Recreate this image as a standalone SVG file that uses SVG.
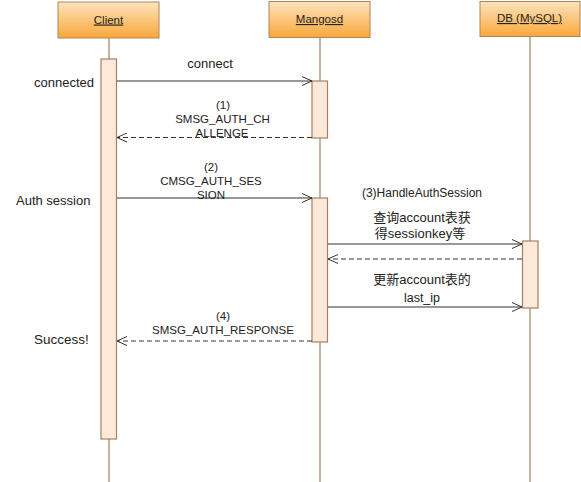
<svg xmlns="http://www.w3.org/2000/svg" width="581" height="482" viewBox="0 0 581 482">
<defs>
<linearGradient id="hdr" x1="0" y1="0" x2="0" y2="1">
<stop offset="0" stop-color="#fee3bd"/>
<stop offset="1" stop-color="#f9a83a"/>
</linearGradient>
<marker id="open" markerWidth="12" markerHeight="10" refX="10" refY="5" orient="auto" markerUnits="userSpaceOnUse">
<path d="M0,0.5 L10,5 L0,9.5" fill="none" stroke="#333" stroke-width="1"/>
</marker>
</defs>
<style>
text{font-family:"Liberation Sans","Noto Sans CJK SC",Arial,sans-serif;fill:#222;font-size:12px}
.hdr{fill:url(#hdr);stroke:#b0845a;stroke-width:1}
.ttl{font-size:11.5px;text-decoration:underline;text-anchor:middle}
.life{stroke:#a88a6e;stroke-width:1.3;fill:none}
.act{fill:#fde9da;stroke:#a8805e;stroke-width:1.2}
.msg{stroke:#333;stroke-width:1.1;fill:none;marker-end:url(#open)}
.ret{stroke:#333;stroke-width:1.1;fill:none;stroke-dasharray:5 3;marker-end:url(#open)}
.lbl{text-anchor:middle;font-size:11.5px}
.big{font-size:13px}
.cjk{text-anchor:middle;font-size:13px}
</style>
<rect width="581" height="482" fill="#fff"/>
<g id="client">
<line class="life" x1="109" y1="38" x2="109" y2="482"/>
<rect class="hdr" x="58" y="2" width="101" height="36"/>
<text class="ttl" x="108.5" y="23.5">Client</text>
<rect class="act" x="101" y="59" width="15.5" height="380"/>
</g>
<g id="mangosd">
<line class="life" x1="320" y1="37" x2="320" y2="482"/>
<rect class="hdr" x="269" y="1.5" width="101" height="36"/>
<text class="ttl" x="319.5" y="23">Mangosd</text>
<rect class="act" x="312" y="81" width="15.5" height="57"/>
<rect class="act" x="312" y="198" width="15.5" height="144"/>
</g>
<g id="db">
<line class="life" x1="530" y1="36" x2="530" y2="482"/>
<rect class="hdr" x="480" y="1.5" width="100" height="35"/>
<text class="ttl" x="529.5" y="22">DB (MySQL)</text>
<rect class="act" x="522.5" y="241" width="15.5" height="67"/>
</g>
<g id="connectors">
<line class="msg" x1="117" y1="81" x2="312" y2="81"/>
<line class="ret" x1="312" y1="137.5" x2="117" y2="137.5"/>
<line class="msg" x1="117" y1="198" x2="312" y2="198"/>
<line class="msg" x1="328" y1="244" x2="522" y2="244"/>
<line class="ret" x1="522" y1="259" x2="328" y2="259"/>
<line class="msg" x1="328" y1="307" x2="522" y2="307"/>
<line class="ret" x1="312" y1="341" x2="117" y2="341"/>
</g>
<g id="labels">
<text class="big" x="210" y="67.5" text-anchor="middle">connect</text>
<text class="big" x="34" y="86.5">connected</text>
<text class="lbl" x="223" y="109">(1)</text>
<text class="lbl" x="222.5" y="123">SMSG_AUTH_CH</text>
<text class="lbl" x="222" y="137">ALLENGE</text>
<text class="lbl" x="211" y="171">(2)</text>
<text class="lbl" x="211" y="185">CMSG_AUTH_SES</text>
<text class="lbl" x="211" y="199">SION</text>
<text class="big" x="16" y="204.5">Auth session</text>
<text class="lbl" x="422" y="197" style="font-size:12px">(3)HandleAuthSession</text>
<text class="cjk" x="422" y="221.5">查询account表获</text>
<text class="cjk" x="420" y="237.5">得sessionkey等</text>
<text class="cjk" x="422" y="283.5">更新account表的</text>
<text class="cjk" x="422" y="301.5" style="font-size:12.5px">last_ip</text>
<text class="lbl" x="223" y="320">(4)</text>
<text class="lbl" x="223" y="334">SMSG_AUTH_RESPONSE</text>
<text class="big" x="34" y="343.5" style="font-size:13.5px">Success!</text>
</g>
</svg>
